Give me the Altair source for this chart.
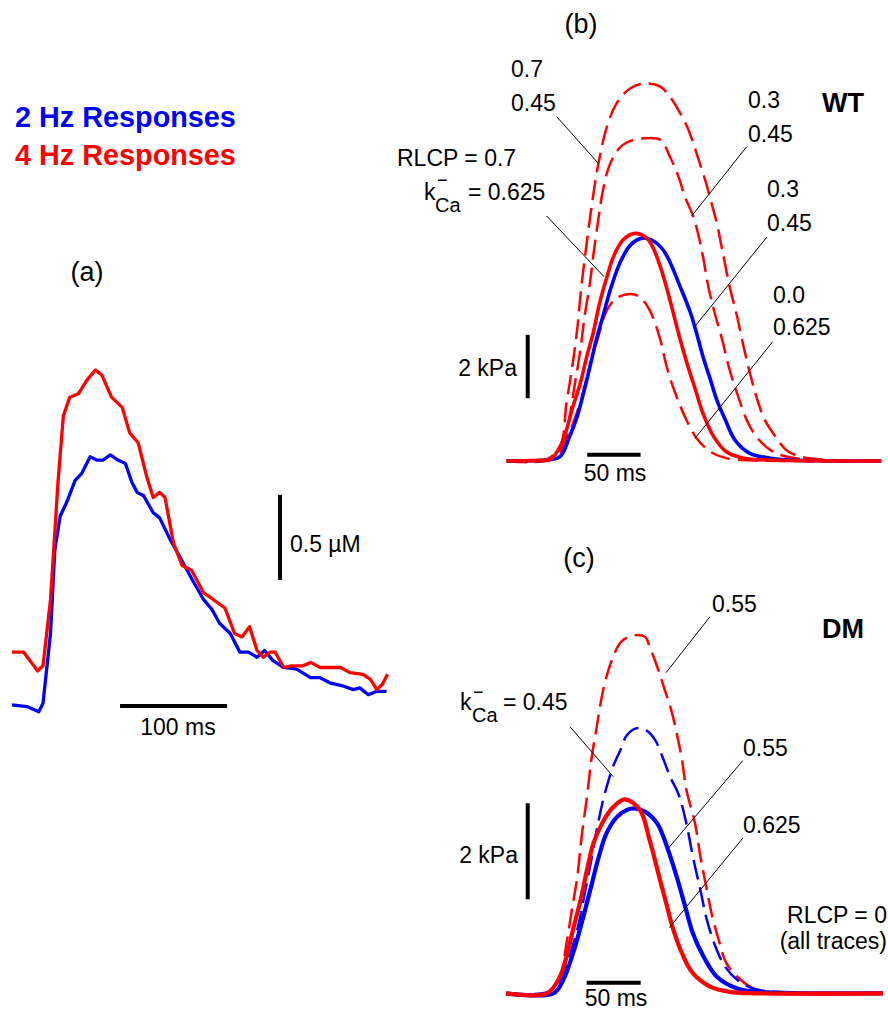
import altair as alt
import pandas as pd

# ---------------- data ----------------
# (a) Ca2+ transients: time (ms) and [Ca2+] above baseline (uM)
a_t_2hz = [0, 14, 25, 29, 36, 40, 45, 51, 59, 65, 73, 79, 85, 92, 99, 106, 112, 117, 123, 132,
           138, 148, 157, 169, 179, 187, 194, 204, 213, 221, 229, 236, 244, 254, 266, 279, 288, 297,
           310, 319, 325, 333, 341, 350]
a_c_2hz = [0.03, 0.02, -0.01, 0.04, 0.45, 0.94, 1.14, 1.22, 1.35, 1.39, 1.49, 1.47, 1.47, 1.50, 1.47,
           1.45, 1.34, 1.28, 1.26, 1.16, 1.13, 1.00, 0.90, 0.76, 0.65, 0.59, 0.51, 0.45, 0.34, 0.34,
           0.31, 0.35, 0.29, 0.25, 0.24, 0.19, 0.19, 0.16, 0.14, 0.12, 0.13, 0.09, 0.11, 0.11]
a_t_4hz = [0, 11, 18, 24, 29, 36, 43, 48, 54, 62, 70, 78, 84, 93, 103, 110, 118, 126, 132, 138,
           143, 151, 159, 168, 179, 188, 199, 208, 215, 222, 229, 235, 241, 246, 254, 261, 272, 279,
           288, 297, 307, 316, 328, 335, 341, 346, 351]
a_c_4hz = [0.34, 0.34, 0.28, 0.23, 0.26, 0.65, 1.34, 1.73, 1.84, 1.86, 1.94, 2.00, 1.97, 1.84, 1.78,
           1.63, 1.57, 1.37, 1.25, 1.28, 1.25, 0.98, 0.85, 0.82, 0.69, 0.65, 0.60, 0.45, 0.43, 0.49,
           0.35, 0.31, 0.34, 0.34, 0.25, 0.26, 0.26, 0.28, 0.25, 0.25, 0.25, 0.22, 0.21, 0.18, 0.12,
           0.15, 0.21]

# (b) WT force (kPa) vs time (ms)
b_t_r07_k045 = [0, 36, 50, 56, 61, 66, 70, 75, 80, 86, 94, 103, 116, 130, 144, 153, 161, 169, 175, 181,
                187, 192, 197, 202, 209, 216, 222, 228, 234, 242, 252, 262, 275, 303, 351]
b_f_r07_k045 = [0, 0.03, 0.45, 1.82, 2.87, 4.13, 5.50, 6.87, 8.13, 9.39, 10.55, 11.28, 11.76, 11.91,
                11.81, 11.49, 11.07, 10.55, 10.02, 9.39, 8.76, 8.13, 7.50, 6.66, 5.50, 4.55, 3.61, 2.77,
                2.03, 1.29, 0.77, 0.35, 0.14, 0.03, 0]
b_t_r03_k045_4hz = [0, 39, 53, 59, 64, 69, 73, 78, 81, 86, 90, 95, 101, 108, 116, 130, 144, 153, 161,
                    167, 175, 180, 184, 189, 195, 202, 209, 217, 225, 234, 247, 262, 289, 351]
b_f_r03_k045_4hz = [0, 0.03, 0.45, 1.40, 2.45, 3.50, 4.55, 5.61, 6.44, 7.65, 8.50, 9.20, 9.65, 9.95,
                    10.10, 10.18, 10.13, 9.60, 8.97, 8.34, 7.71, 7.08, 6.44, 5.50, 4.66, 3.82, 2.87, 2.03,
                    1.29, 0.77, 0.35, 0.14, 0.03, 0]
b_t_r00_k0625 = [0, 39, 50, 59, 69, 78, 86, 94, 103, 116, 125, 134, 144, 150, 158, 167, 178, 191, 206,
                 228, 351]
b_f_r00_k0625 = [0, 0.03, 0.28, 0.91, 1.86, 3.00, 3.94, 4.76, 5.14, 5.27, 5.17, 4.76, 3.82, 2.97, 2.14,
                 1.40, 0.72, 0.29, 0.09, 0.02, 0]
b_t_2hz = [0, 36, 50, 59, 66, 72, 78, 84, 91, 97, 106, 116, 127, 139, 147, 153, 162, 172, 178, 184,
           191, 197, 205, 214, 228, 247, 266, 351]
b_f_2hz = [0, 0.03, 0.14, 0.77, 1.40, 2.14, 2.97, 3.82, 4.66, 5.39, 6.24, 6.81, 7.03, 6.91, 6.64, 6.28,
           5.55, 4.70, 4.03, 3.29, 2.56, 1.92, 1.29, 0.66, 0.24, 0.09, 0.03, 0]
b_t_r07_k0625 = [0, 31, 41, 50, 56, 62, 69, 75, 81, 87, 94, 100, 109, 120, 130, 136, 144, 153, 161, 169,
                 177, 184, 194, 206, 222, 247, 351]
b_f_r07_k0625 = [0, 0.02, 0.05, 0.45, 0.98, 1.71, 2.45, 3.29, 4.03, 4.97, 5.81, 6.44, 6.97, 7.18, 7.07,
                 6.81, 6.13, 5.08, 4.03, 3.08, 2.24, 1.50, 0.77, 0.29, 0.09, 0.03, 0]

# (c) DM force (kPa) vs time (ms)
c_t_4hz_k055 = [0, 39, 50, 56, 61, 66, 70, 75, 79, 84, 90, 98, 107, 119, 129, 133, 141, 147, 153, 158,
                163, 167, 175, 180, 186, 191, 197, 204, 214, 226, 241, 349]
c_f_4hz_k055 = [0, 0.01, 0.35, 1.04, 1.74, 2.43, 3.26, 4.10, 4.86, 5.55, 6.32, 6.94, 7.33, 7.46, 7.42,
                7.22, 6.74, 6.32, 5.90, 5.42, 4.86, 4.24, 3.54, 2.85, 2.15, 1.60, 1.11, 0.63, 0.35,
                0.14, 0.03, 0]
c_t_2hz_k045 = [0, 39, 50, 59, 67, 73, 79, 84, 90, 95, 99, 106, 112, 121, 129, 138, 146, 152, 160, 167,
                173, 180, 186, 194, 203, 214, 229, 248, 349]
c_f_2hz_k045 = [0, 0.03, 0.28, 0.80, 1.42, 2.09, 2.78, 3.40, 4.03, 4.44, 4.72, 5.07, 5.38, 5.52, 5.49,
                5.28, 4.86, 4.51, 4.13, 3.54, 2.85, 2.15, 1.53, 0.97, 0.55, 0.28, 0.10, 0.03, 0]
c_t_4hz_k0625 = [0, 38, 50, 56, 62, 69, 75, 81, 89, 98, 110, 124, 133, 141, 149, 155, 163, 173, 189,
                 207, 232, 349]
c_f_4hz_k0625 = [0, 0, 0.35, 0.76, 1.32, 1.94, 2.57, 3.13, 3.54, 3.85, 4.04, 3.82, 3.19, 2.50, 1.82,
                 1.32, 0.83, 0.42, 0.14, 0.03, 0, 0]
c_t_2hz_k055 = [0, 44, 53, 62, 70, 78, 86, 93, 103, 112, 119, 129, 140, 150, 158, 166, 173, 183, 195,
                214, 235, 349]
c_f_2hz_k055 = [0, 0, 0.28, 0.83, 1.46, 2.15, 2.85, 3.33, 3.68, 3.82, 3.85, 3.78, 3.54, 2.99, 2.43,
                1.80, 1.25, 0.76, 0.35, 0.10, 0.03, 0]

# scale bars: (start, length) in data units
a_bar_time = (101, 100)      # ms
a_bar_time_level = 0.024     # uM
a_bar_conc = (0.765, 0.5)    # uM
a_bar_conc_at = 250.5        # ms
b_bar_time = (75.5, 50)
b_bar_time_level = 0.2
b_bar_force = (1.98, 2)
b_bar_force_at = 19.7
c_bar_time = (74.7, 50)
c_bar_time_level = 0.22
c_bar_force = (1.96, 2)
c_bar_force_at = 20.1

# ---------------- styling / helpers ----------------
FONT = "Liberation Sans"
RED = "#ff0000"
BLUE = "#0000ff"
DASH = [20, 8]

A_X = [-11.21, 355.14]
A_Y = [-1.794, 4.176]
B_X = [-107.5, 357.4]
B_Y = [-1.861, 14.543]
C_X = [-105.56, 353.7]
C_Y = [-0.452, 9.860]


def enc_x(dom, field="t"):
    return alt.X(f"{field}:Q", scale=alt.Scale(domain=dom, nice=False, zero=False), axis=None)


def enc_y(dom, field="v"):
    return alt.Y(f"{field}:Q", scale=alt.Scale(domain=dom, nice=False, zero=False), axis=None)


def trace(t, v, xd, yd, color, width, dash=None, interp="catmull-rom"):
    df = pd.DataFrame({"t": t, "v": v})
    kw = dict(color=color, strokeWidth=width, interpolate=interp, strokeCap="butt", strokeJoin="round")
    if dash:
        kw["strokeDash"] = dash
    return alt.Chart(df).mark_line(**kw).encode(x=enc_x(xd), y=enc_y(yd), order="t:Q")


def hbar(start_len, level, xd, yd):
    s, l = start_len
    df = pd.DataFrame({"t": [s], "t2": [s + l], "v": [level]})
    return alt.Chart(df).mark_rule(color="black", strokeWidth=4).encode(
        x=enc_x(xd), x2="t2:Q", y=enc_y(yd))


def vbar(start_len, at, xd, yd):
    s, l = start_len
    df = pd.DataFrame({"t": [at], "v": [s], "v2": [s + l]})
    return alt.Chart(df).mark_rule(color="black", strokeWidth=4).encode(
        x=enc_x(xd), y=enc_y(yd), y2="v2:Q")


def label(text, x, y, size=23, align="left", weight="normal", color="black"):
    return alt.Chart(pd.DataFrame({"s": [text]})).mark_text(
        align=align, baseline="alphabetic", fontSize=size, fontWeight=weight,
        color=color, font=FONT).encode(text="s:N", x=alt.value(x), y=alt.value(y))


def leader(x1, y1, x2, y2):
    return alt.Chart(pd.DataFrame({"d": [0]})).mark_rule(color="black", strokeWidth=1).encode(
        x=alt.value(x1), y=alt.value(y1), x2=alt.value(x2), y2=alt.value(y2))


# ---------------- panel (a) ----------------
panel_a = alt.layer(
    trace(a_t_2hz, a_c_2hz, A_X, A_Y, BLUE, 3.3, interp="linear"),
    trace(a_t_4hz, a_c_4hz, A_X, A_Y, RED, 3.3, interp="linear"),
    hbar(a_bar_time, a_bar_time_level, A_X, A_Y),
    vbar(a_bar_conc, a_bar_conc_at, A_X, A_Y),
    label("2 Hz Responses", 15, 127, size=28.8, weight="bold", color=BLUE),
    label("4 Hz Responses", 15, 165, size=28.8, weight="bold", color=RED),
    label("(a)", 87, 281, size=27, align="center"),
    label("100 ms", 178, 735, align="center"),
    label("0.5 µM", 290, 552),
).properties(width=392, height=1015)

# ---------------- panel (b) ----------------
panel_b = alt.layer(
    trace(b_t_r07_k045, b_f_r07_k045, B_X, B_Y, RED, 2.5, dash=DASH),
    trace(b_t_r03_k045_4hz, b_f_r03_k045_4hz, B_X, B_Y, RED, 2.5, dash=DASH),
    trace(b_t_r00_k0625, b_f_r00_k0625, B_X, B_Y, RED, 2.5, dash=DASH),
    trace(b_t_2hz, b_f_2hz, B_X, B_Y, BLUE, 3.6),
    trace(b_t_r07_k0625, b_f_r07_k0625, B_X, B_Y, RED, 3.6),
    hbar(b_bar_time, b_bar_time_level, B_X, B_Y),
    vbar(b_bar_force, b_bar_force_at, B_X, B_Y),
    label("(b)", 189, 33, size=27, align="center"),
    label("WT", 430, 112, size=27, weight="bold"),
    label("0.7", 119, 77),
    label("0.45", 119, 111),
    label("0.3", 356, 108),
    label("0.45", 356, 142),
    label("RLCP = 0.7", 5, 166),
    label("k", 32, 200),
    label("−", 45, 186, size=18),
    label("Ca", 43, 212, size=20),
    label("= 0.625", 76, 200),
    label("0.3", 375, 197),
    label("0.45", 375, 231),
    label("0.0", 381, 303),
    label("0.625", 381, 335),
    label("2 kPa", 125, 376, align="right"),
    label("50 ms", 223, 481, align="center"),
    leader(164.7, 116.7, 206.3, 163.3),
    leader(354.7, 146.7, 299.7, 216),
    leader(154.7, 216, 212, 276.7),
    leader(374.7, 237.3, 304, 325),
    leader(380.7, 341.7, 303, 438.3),
).properties(width=496, height=520)

# ---------------- panel (c) ----------------
panel_c = alt.layer(
    trace(c_t_4hz_k055, c_f_4hz_k055, C_X, C_Y, RED, 2.5, dash=DASH),
    trace(c_t_2hz_k045, c_f_2hz_k045, C_X, C_Y, BLUE, 2.5, dash=DASH),
    trace(c_t_2hz_k055, c_f_2hz_k055, C_X, C_Y, BLUE, 4.2),
    trace(c_t_4hz_k0625, c_f_4hz_k0625, C_X, C_Y, RED, 4.2),
    hbar(c_bar_time, c_bar_time_level, C_X, C_Y),
    vbar(c_bar_force, c_bar_force_at, C_X, C_Y),
    label("(c)", 187, 47, size=27, align="center"),
    label("DM", 430, 118, size=27, weight="bold"),
    label("0.55", 320, 92),
    label("k", 68, 190),
    label("−", 81, 178, size=18),
    label("Ca", 80, 202, size=20),
    label("= 0.45", 111, 190),
    label("0.55", 351, 236),
    label("0.625", 351, 313),
    label("2 kPa", 126, 343, align="right"),
    label("50 ms", 224, 486, align="center"),
    label("RLCP = 0", 495, 403, align="right"),
    label("(all traces)", 495, 429, align="right"),
    leader(318, 96.7, 274, 152.7),
    leader(178, 206.7, 221.3, 256.7),
    leader(350.7, 240.7, 276.3, 328.3),
    leader(350.7, 318.3, 277.3, 407.7),
).properties(width=496, height=495)

right = alt.vconcat(panel_b, panel_c, spacing=0, bounds="flush")
chart = alt.hconcat(panel_a, right, spacing=0, bounds="flush").configure_view(
    stroke=None).properties(padding=0, background="white")

chart.save("out.html", embed_options={"renderer": "svg", "actions": False})
